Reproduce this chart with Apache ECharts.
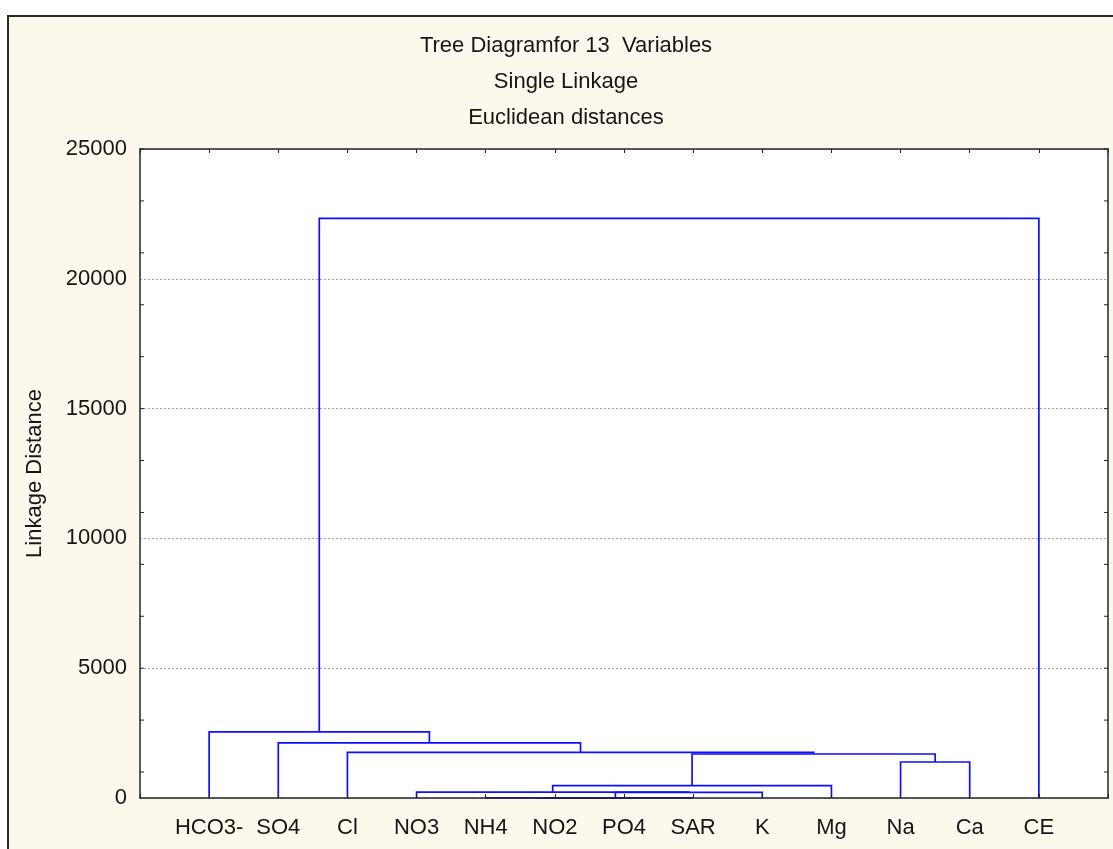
<!DOCTYPE html>
<html>
<head>
<meta charset="utf-8">
<script src="https://cdn.jsdelivr.net/npm/echarts@6/dist/echarts.min.js"></script>
<style>
  html, body { margin: 0; padding: 0; background: #ffffff; overflow: hidden; }
  #frame {
    position: absolute; left: 7px; top: 15px; width: 1200px; height: 900px;
    background: #fdf8ec; border-left: 2px solid #2a2a2a; border-top: 2px solid #2a2a2a;
    box-sizing: border-box;
  }
  #chart { position: absolute; left: 0; top: 0; width: 1113px; height: 849px; }
</style>
</head>
<body>
<div id="frame"></div>
<div id="chart"></div>
<script>
// Title lines
const titleLines = ['Tree Diagramfor 13  Variables', 'Single Linkage', 'Euclidean distances'];

// Leaves in display order
const leaves = ['HCO3-', 'SO4', 'Cl', 'NO3', 'NH4', 'NO2', 'PO4', 'SAR', 'K', 'Mg', 'Na', 'Ca', 'CE'];

// Merge steps: node ids 0..12 are leaves, merge k creates node 13 + k
const mergeLeft   = [5, 4, 14, 15, 3, 17, 10, 18, 2, 1, 0, 23];
const mergeRight  = [6, 13, 7, 8, 16, 9, 11, 19, 20, 21, 22, 12];
const mergeHeight = [2, 4, 6, 220, 225, 474, 1387, 1695, 1760, 2120, 2550, 22330];

// Value axis labels and the small inner tick marks
const yLabels = [0, 5000, 10000, 15000, 20000, 25000];
const yMinorTicks = [1000, 3000, 5000, 7000, 9000, 11000, 13000, 15000, 17000, 19000, 21000, 23000, 25000];

const FONT = "'Liberation Sans', Arial, sans-serif";
const TEXT = '#161616';
const AXIS = '#262626';

// Build link segments: each link joins two child nodes at the merge height;
// a cluster sits at the midpoint of its two children
const nodeX = leaves.map((_, i) => i + 1);
const nodeH = leaves.map(() => 0);
const links = mergeLeft.map((l, k) => {
  const r = mergeRight[k];
  const h = mergeHeight[k];
  const row = [nodeX[l], nodeH[l], nodeX[r], nodeH[r], h];
  nodeX.push((nodeX[l] + nodeX[r]) / 2);
  nodeH.push(h);
  return row;
});

const xMax = leaves.length + 1;

const chart = echarts.init(document.getElementById('chart'), null, { renderer: 'canvas' });

const option = {
  animation: false,
  backgroundColor: 'transparent',
  textStyle: { fontFamily: FONT },
  graphic: titleLines.map((t, i) => ({
    type: 'text',
    x: 566,
    y: 46 + i * 36,
    style: {
      text: t, fill: TEXT, font: '22px ' + FONT,
      textAlign: 'center', textVerticalAlign: 'middle'
    }
  })),
  grid: {
    left: 140, top: 149, right: 5, bottom: 51,
    show: true, backgroundColor: '#ffffff', borderWidth: 0
  },
  xAxis: [
    {
      type: 'value', min: 0, max: xMax, interval: 1, position: 'bottom', z: 3,
      axisLine: { show: true, onZero: false, lineStyle: { color: AXIS, width: 1.5 } },
      axisTick: { show: true, inside: true, length: 4, lineStyle: { color: AXIS, width: 1 } },
      axisLabel: {
        show: true, margin: 19, color: TEXT, fontSize: 22, fontFamily: FONT,
        showMinLabel: true, showMaxLabel: true,
        formatter: v => leaves[v - 1] || ''
      },
      splitLine: { show: false }
    },
    {
      type: 'value', min: 0, max: xMax, interval: 1, position: 'top', z: 3,
      axisLine: { show: true, onZero: false, lineStyle: { color: AXIS, width: 1.5 } },
      axisTick: { show: true, inside: true, length: 4, lineStyle: { color: AXIS, width: 1 } },
      axisLabel: { show: false },
      splitLine: { show: false }
    }
  ],
  yAxis: [
    {
      type: 'value', min: yLabels[0], max: yLabels[yLabels.length - 1], interval: 5000, position: 'left',
      name: 'Linkage Distance', nameLocation: 'middle', nameRotate: 90, nameGap: 94,
      nameTextStyle: { color: TEXT, fontSize: 22, fontFamily: FONT },
      axisLine: { show: true, onZero: false, lineStyle: { color: AXIS, width: 1.5 } },
      axisTick: { show: false },
      axisLabel: {
        show: true, margin: 13, color: TEXT, fontSize: 22, fontFamily: FONT,
        formatter: v => String(v)
      },
      splitLine: { show: true, lineStyle: { color: '#a4a4a4', width: 1, type: [2, 2] } }
    },
    {
      type: 'value', min: yLabels[0], max: yLabels[yLabels.length - 1], interval: 5000, position: 'right',
      axisLine: { show: true, onZero: false, lineStyle: { color: AXIS, width: 1.5 } },
      axisTick: { show: false },
      axisLabel: { show: false },
      splitLine: { show: false }
    }
  ],
  series: [
    {
      name: 'links',
      type: 'custom',
      xAxisIndex: 0, yAxisIndex: 0,
      z: 2,
      clip: false,
      encode: { x: [0, 2], y: [1, 3, 4] },
      data: links,
      renderItem: (params, api) => {
        const p0 = api.coord([api.value(0), api.value(1)]);
        const p1 = api.coord([api.value(0), api.value(4)]);
        const p2 = api.coord([api.value(2), api.value(4)]);
        const p3 = api.coord([api.value(2), api.value(3)]);
        return {
          type: 'polyline',
          shape: { points: [p0, p1, p2, p3] },
          style: { stroke: '#0f0fff', lineWidth: 1.7, fill: null }
        };
      }
    },
    {
      name: 'ticks',
      type: 'custom',
      xAxisIndex: 0, yAxisIndex: 0,
      z: 4,
      encode: { x: 0, y: 1 },
      data: yMinorTicks.map(v => [0, v]),
      renderItem: (params, api) => {
        const v = api.value(1);
        const l = api.coord([0, v]);
        const r = api.coord([xMax, v]);
        return {
          type: 'group',
          children: [
            { type: 'line', shape: { x1: l[0], y1: l[1], x2: l[0] + 4, y2: l[1] }, style: { stroke: AXIS, lineWidth: 1 } },
            { type: 'line', shape: { x1: r[0] - 4, y1: r[1], x2: r[0], y2: r[1] }, style: { stroke: AXIS, lineWidth: 1 } }
          ]
        };
      }
    }
  ]
};

chart.setOption(option);
</script>
</body>
</html>
